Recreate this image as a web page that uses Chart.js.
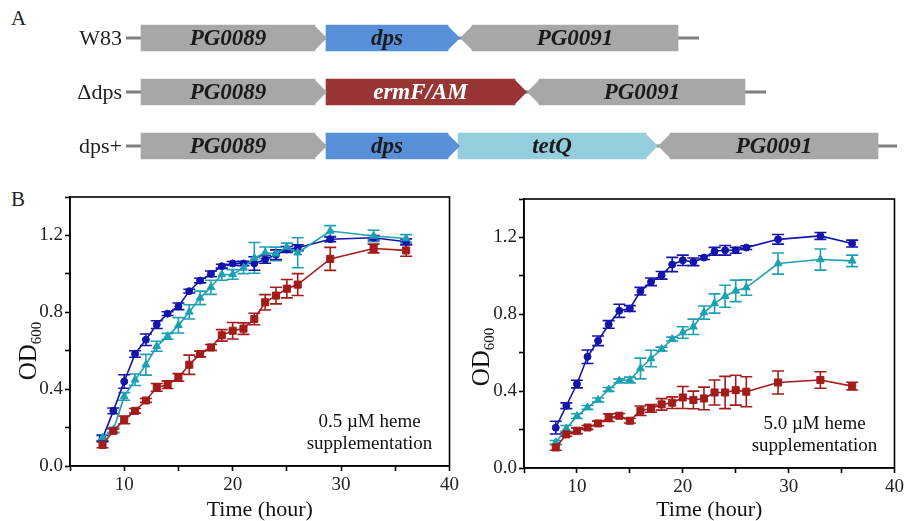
<!DOCTYPE html>
<html>
<head>
<meta charset="utf-8">
<script src="https://cdn.jsdelivr.net/npm/chart.js@4"></script>
<style>
  body { margin: 0; background: #fff; }
  #wrap { position: relative; width: 907px; height: 521px; overflow: hidden; font-family: "Liberation Serif", serif; }
  canvas { position: absolute; }
  .tag { position: absolute; font-size: 21px; color: #222; }
</style>
</head>
<body>
<div id="wrap">
  <div class="tag" style="left:11px;top:6px">A</div>
  <div class="tag" style="left:11px;top:187px">B</div>
  <canvas id="genes" width="907" height="162" style="left:0;top:11px"></canvas>
  <canvas id="left" width="462" height="341" style="left:0;top:180px"></canvas>
  <canvas id="right" width="453" height="341" style="left:454px;top:180px"></canvas>
</div>
<script>
// ---- panel A: gene map (schematic units) ----
const strains = ['W83', '\u0394dps', 'dps+'];
const geneName = ['PG0089', 'dps', 'PG0091', 'PG0089', 'ermF/AM', 'PG0091', 'PG0089', 'dps', 'tetQ', 'PG0091'];
const geneRow = [0, 0, 0, 1, 1, 1, 2, 2, 2, 2];
const geneStart = [0, 185, 319, 0, 185, 386, 0, 185, 317, 517];
const geneEnd = [186, 319, 537, 186, 386, 604, 186, 319, 517, 737];
const geneDir = [1, 1, -1, 1, 1, -1, 1, 1, 1, -1];
const flankStart = [-15, -15, -15];
const flankEnd = [558, 625, 756];

// ---- panel B: growth curves ----
const times = [8, 9, 10, 11, 12, 13, 14, 15, 16, 17, 18, 19, 20, 21, 22, 23, 24, 25, 26, 29, 33, 36];

const wt05 = [0.144, 0.287, 0.44, 0.583, 0.657, 0.736, 0.793, 0.831, 0.91, 0.965, 1.0, 1.04, 1.054, 1.054, 1.054, 1.075, 1.10, 1.127, 1.136, 1.18, 1.188, 1.167];
const wt05Err = [0.015, 0.015, 0.035, 0.017, 0.03, 0.02, 0.01, 0.017, 0.01, 0.012, 0.015, 0.01, 0.01, 0.012, 0.035, 0.02, 0.025, 0.015, 0.015, 0.012, 0.012, 0.015];
const comp05 = [0.148, 0.188, 0.362, 0.449, 0.527, 0.623, 0.675, 0.732, 0.802, 0.875, 0.93, 0.997, 0.997, 1.031, 1.083, 1.11, 1.104, 1.14, 1.11, 1.223, 1.197, 1.184];
const comp05Err = [0.015, 0.012, 0.02, 0.03, 0.054, 0.026, 0.015, 0.04, 0.037, 0.035, 0.037, 0.03, 0.025, 0.03, 0.08, 0.03, 0.035, 0.02, 0.078, 0.028, 0.03, 0.02];
const mut05 = [0.11, 0.183, 0.24, 0.287, 0.341, 0.409, 0.423, 0.461, 0.527, 0.583, 0.617, 0.68, 0.704, 0.715, 0.765, 0.852, 0.887, 0.923, 0.944, 1.078, 1.132, 1.122];
const mut05Err = [0.015, 0.01, 0.02, 0.012, 0.01, 0.02, 0.02, 0.02, 0.05, 0.015, 0.015, 0.03, 0.043, 0.03, 0.03, 0.04, 0.043, 0.048, 0.057, 0.06, 0.023, 0.03];

const wt50 = [0.21, 0.324, 0.437, 0.579, 0.662, 0.747, 0.818, 0.83, 0.92, 0.969, 1.003, 1.059, 1.081, 1.073, 1.095, 1.128, 1.133, 1.133, 1.147, 1.19, 1.208, 1.168];
const wt50Err = [0.033, 0.015, 0.02, 0.035, 0.025, 0.02, 0.034, 0.015, 0.02, 0.02, 0.02, 0.037, 0.027, 0.02, 0.01, 0.02, 0.025, 0.015, 0.01, 0.025, 0.018, 0.018];
const comp50 = [0.133, 0.206, 0.27, 0.315, 0.354, 0.409, 0.454, 0.458, 0.518, 0.57, 0.619, 0.671, 0.705, 0.735, 0.809, 0.856, 0.894, 0.922, 0.939, 1.064, 1.085, 1.078];
const comp50Err = [0.01, 0.015, 0.012, 0.01, 0.01, 0.01, 0.01, 0.015, 0.054, 0.043, 0.01, 0.01, 0.03, 0.04, 0.034, 0.05, 0.057, 0.056, 0.04, 0.055, 0.055, 0.03];
const mut50 = [0.107, 0.175, 0.194, 0.211, 0.232, 0.262, 0.272, 0.246, 0.298, 0.31, 0.331, 0.34, 0.367, 0.354, 0.362, 0.393, 0.393, 0.405, 0.397, 0.445, 0.458, 0.426];
const mut50Err = [0.015, 0.01, 0.015, 0.01, 0.012, 0.02, 0.012, 0.012, 0.025, 0.02, 0.03, 0.03, 0.057, 0.046, 0.059, 0.065, 0.084, 0.078, 0.078, 0.06, 0.043, 0.02];

const yTicks = [0, 0.4, 0.8, 1.2];
const xTicks = [10, 20, 30, 40];

const SERIF = '"Liberation Serif", "Times New Roman", serif';
const geneColors = { 'PG0089': '#a7a7a7', 'PG0091': '#a7a7a7', 'dps': '#5790d9', 'ermF/AM': '#983535', 'tetQ': '#94cdde' };
const HEAD = 12;

// arrow heads, flanking lines and labels for panel A
const genePlugin = {
  id: 'genePlugin',
  beforeDatasetsDraw(chart) {
    const { ctx, scales: { x, y } } = chart;
    ctx.save();
    ctx.strokeStyle = '#808080';
    ctx.lineWidth = 3;
    strains.forEach((s, r) => {
      const py = y.getPixelForValue(r);
      ctx.beginPath();
      ctx.moveTo(x.getPixelForValue(flankStart[r]), py);
      ctx.lineTo(x.getPixelForValue(flankEnd[r]), py);
      ctx.stroke();
      ctx.fillStyle = '#222';
      ctx.font = '22px ' + SERIF;
      ctx.textAlign = 'right';
      ctx.textBaseline = 'middle';
      ctx.fillText(s, x.getPixelForValue(flankStart[r]) - 4, py + 1);
    });
    ctx.restore();
  },
  afterDatasetsDraw(chart) {
    const { ctx, scales: { x, y } } = chart;
    const h = 13;
    ctx.save();
    geneName.forEach((g, i) => {
      const py = y.getPixelForValue(geneRow[i]);
      const x0 = x.getPixelForValue(geneStart[i]);
      const x1 = x.getPixelForValue(geneEnd[i]);
      ctx.fillStyle = geneColors[g];
      ctx.beginPath();
      if (geneDir[i] > 0) {
        ctx.moveTo(x1 - HEAD - 1, py - h);
        ctx.lineTo(x1, py);
        ctx.lineTo(x1 - HEAD - 1, py + h);
      } else {
        ctx.moveTo(x0 + HEAD + 1, py - h);
        ctx.lineTo(x0, py);
        ctx.lineTo(x0 + HEAD + 1, py + h);
      }
      ctx.closePath();
      ctx.fill();
      const cx = geneDir[i] > 0 ? (x0 + x1 - HEAD) / 2 : (x0 + HEAD + x1) / 2;
      ctx.fillStyle = g === 'ermF/AM' ? '#fff' : '#1a1a1a';
      ctx.font = 'italic bold 23px ' + SERIF;
      ctx.textAlign = 'center';
      ctx.textBaseline = 'middle';
      ctx.fillText(g, cx, py + 1);
    });
    ctx.restore();
  }
};

new Chart(document.getElementById('genes'), {
  type: 'bar',
  data: {
    labels: strains,
    datasets: [{
      data: geneName.map((g, i) => ({
        y: strains[geneRow[i]],
        x: geneDir[i] > 0 ? [geneStart[i], geneEnd[i] - HEAD] : [geneStart[i] + HEAD, geneEnd[i]]
      })),
      backgroundColor: geneName.map(g => geneColors[g]),
      barThickness: 26,
      borderSkipped: false
    }]
  },
  options: {
    indexAxis: 'y',
    responsive: false,
    animation: false,
    devicePixelRatio: 1,
    layout: { padding: 0 },
    plugins: { legend: { display: false }, tooltip: { enabled: false } },
    scales: {
      x: { type: 'linear', min: -141, max: 766, display: false },
      y: { type: 'category', display: false }
    }
  },
  plugins: [genePlugin]
});

// error bars, frame, OD600 title and note for panel B
const errorBars = {
  id: 'errorBars',
  beforeDatasetsDraw(chart) {
    const { ctx, scales: { x, y } } = chart;
    ctx.save();
    chart.data.datasets.forEach(ds => {
      ctx.strokeStyle = ds.borderColor;
      ctx.lineWidth = 1.6;
      ds.data.forEach((p, j) => {
        const px = x.getPixelForValue(p.x);
        const t = y.getPixelForValue(p.y + ds.errors[j]);
        const b = y.getPixelForValue(p.y - ds.errors[j]);
        ctx.beginPath();
        ctx.moveTo(px, t); ctx.lineTo(px, b);
        ctx.moveTo(px - 6, t); ctx.lineTo(px + 6, t);
        ctx.moveTo(px - 6, b); ctx.lineTo(px + 6, b);
        ctx.stroke();
      });
    });
    ctx.restore();
  },
  afterDraw(chart, args, opts) {
    const { ctx, chartArea: a } = chart;
    ctx.save();
    ctx.strokeStyle = '#000';
    ctx.lineWidth = 1.6;
    ctx.strokeRect(a.left, a.top, a.right - a.left, a.bottom - a.top);
    // OD600 title
    ctx.translate(opts.odX, opts.odY);
    ctx.rotate(-Math.PI / 2);
    ctx.fillStyle = '#111';
    ctx.font = '25px ' + SERIF;
    const w1 = ctx.measureText('OD').width;
    ctx.font = '15px ' + SERIF;
    const w2 = ctx.measureText('600').width;
    const s = -(w1 + w2) / 2;
    ctx.textBaseline = 'alphabetic';
    ctx.textAlign = 'left';
    ctx.font = '25px ' + SERIF;
    ctx.fillText('OD', s, 9);
    ctx.font = '15px ' + SERIF;
    ctx.fillText('600', s + w1, 14);
    ctx.setTransform(1, 0, 0, 1, 0, 0);
    // note
    ctx.font = '19px ' + SERIF;
    ctx.textAlign = 'center';
    ctx.textBaseline = 'middle';
    ctx.fillStyle = '#111';
    ctx.fillText(opts.note, a.right - 80, a.bottom - 44);
    ctx.fillText('supplementation', a.right - 80, a.bottom - 22);
    ctx.restore();
  }
};

function series(vals, errs, color, shape, r) {
  return {
    data: times.map((t, i) => ({ x: t, y: vals[i] })),
    errors: errs,
    borderColor: color,
    backgroundColor: color,
    borderWidth: 1.6,
    pointStyle: shape,
    pointRadius: r,
    pointBorderWidth: 1,
    tension: 0
  };
}

function growthChart(id, wt, wtE, mut, mutE, comp, compE, note, pad, odX, odY) {
  new Chart(document.getElementById(id), {
    type: 'line',
    data: {
      datasets: [
        series(mut, mutE, '#a31b1b', 'rect', 5),
        series(comp, compE, '#1ea0b3', 'triangle', 4.5),
        series(wt, wtE, '#1414aa', 'circle', 3.5)
      ]
    },
    options: {
      responsive: false,
      animation: false,
      devicePixelRatio: 1,
      layout: { padding: pad },
      plugins: {
        legend: { display: false },
        tooltip: { enabled: false },
        errorBars: { note: note, odX: odX, odY: odY }
      },
      scales: {
        x: {
          type: 'linear', min: 5, max: 40,
          afterFit: s => { s.height = 341 - 17 - 269 - pad.top + 17; },
          border: { color: '#000', width: 1.6 },
          grid: { drawOnChartArea: false, drawTicks: true, tickLength: 5, tickColor: '#000', tickWidth: 1.6 },
          ticks: {
            stepSize: 5, padding: 3, color: '#222', maxRotation: 0, autoSkip: false,
            font: { family: SERIF, size: 19 },
            callback: v => xTicks.includes(v) ? String(v) : ''
          },
          title: {
            display: true, text: 'Time (hour)', color: '#111',
            font: { family: SERIF, size: 22, lineHeight: 1 },
            padding: { top: 0, bottom: 0 }
          }
        },
        y: {
          min: 0, max: 1.4,
          afterFit: s => { s.width = 70; },
          border: { color: '#000', width: 1.6 },
          grid: { drawOnChartArea: false, drawTicks: true, tickLength: 5, tickColor: '#000', tickWidth: 1.6 },
          ticks: {
            stepSize: 0.2, padding: 2, color: '#222', autoSkip: false,
            font: { family: SERIF, size: 19 },
            callback: v => yTicks.some(t => Math.abs(t - v) < 1e-6) ? v.toFixed(1) : ''
          }
        }
      }
    },
    plugins: [errorBars]
  });
}

growthChart('left', wt05, wt05Err, mut05, mut05Err, comp05, comp05Err,
  '0.5 \u00b5M heme', { top: 17, right: 10, left: 0, bottom: 0 }, 27, 171);
growthChart('right', wt50, wt50Err, mut50, mut50Err, comp50, comp50Err,
  '5.0 \u00b5M heme', { top: 19, right: 9, left: 0, bottom: 0 }, 26, 177);
</script>
</body>
</html>
